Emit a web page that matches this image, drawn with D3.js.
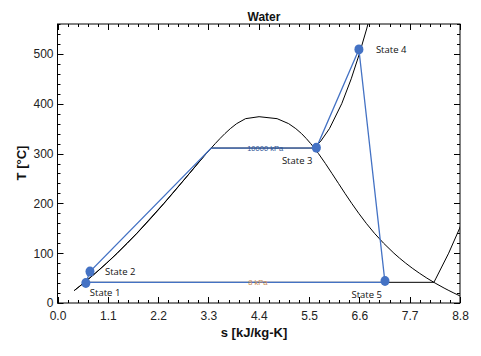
<!DOCTYPE html>
<html>
<head>
<meta charset="utf-8">
<script src="https://cdn.jsdelivr.net/npm/d3@7"></script>
<style>
  body { margin: 0; background: #fff; }
  svg { display: block; }
</style>
</head>
<body>
<svg id="chart" width="481" height="356"></svg>
<script>
// ---------- DATA ----------
const title = "Water";
const xLabel = "s [kJ/kg-K]";
const yLabel = "T [°C]";
const xTicks = [0.0, 1.1, 2.2, 3.3, 4.4, 5.5, 6.6, 7.7, 8.8];
const yTicks = [0, 100, 200, 300, 400, 500];

// saturated liquid line (T, s)
const satLiqT = [25, 30, 40, 50, 60, 70, 80, 90, 100, 120, 140, 160, 180, 200, 220, 240, 260, 280, 300, 310, 320, 330, 340, 350, 360, 370, 373.95];
const satLiqS = [0.3672, 0.4368, 0.5724, 0.7037, 0.8312, 0.9550, 1.0756, 1.1929, 1.3072, 1.5279, 1.7392, 1.9426, 2.1392, 2.3305, 2.5177, 2.7020, 2.8849, 3.0685, 3.2552, 3.3512, 3.4494, 3.5518, 3.6601, 3.7784, 3.9167, 4.1112, 4.4070];
// saturated vapour line (T, s)
const satVapT = [373.95, 370, 360, 350, 340, 330, 320, 310, 300, 280, 260, 240, 220, 200, 180, 160, 140, 120, 100, 90, 80, 70, 60, 50, 40, 30, 25, 20, 15, 10];
const satVapS = [4.4070, 4.8012, 5.0536, 5.2101, 5.3357, 5.4400, 5.5357, 5.6233, 5.7049, 5.8571, 6.0007, 6.1434, 6.2854, 6.4322, 6.5863, 6.7502, 6.9293, 7.1296, 7.3549, 7.4791, 7.6122, 7.7553, 7.9093, 8.0748, 8.2555, 8.4520, 8.5567, 8.6661, 8.7803, 8.8998];

// 10000 kPa isobar (T, s)
const iso10000T = [25, 40, 60, 80, 100, 140, 200, 260, 300, 311.0, 311.0, 325, 350, 400, 450, 500, 550, 600];
const iso10000S = [0.3650, 0.5705, 0.8287, 1.0723, 1.3034, 1.7344, 2.3251, 2.8841, 3.2461, 3.3603, 5.6159, 5.7568, 5.9459, 6.2141, 6.4219, 6.5995, 6.7585, 6.9045];
const iso10000Label = "10000 kPa";

// 8 kPa isobar (T, s)
const iso8T = [41.5, 41.5, 50, 100, 150, 200];
const iso8S = [0.5925, 8.2296, 8.277, 8.552, 8.792, 9.008];
const iso8Label = "8 kPa";

// cycle states
const stateNames = ["State 1", "State 2", "State 3", "State 4", "State 5"];
const stateS = [0.62, 0.71, 5.66, 6.59, 7.16];
const stateT = [40, 63, 311.5, 509, 44];
// cycle path (includes saturated liquid point at 10000 kPa)
const cycleS = [0.62, 0.71, 3.36, 5.66, 6.59, 7.16, 0.62];
const cycleT = [40, 63, 311, 311.5, 509, 41.5, 41.5];

// ---------- CHART ----------
const svg = d3.select("#chart");
const L = 57.5, R = 460, T = 24, B = 303;
const x = d3.scaleLinear().domain([0, 8.8]).range([L, R]);
const y = d3.scaleLinear().domain([0, 560]).range([B, T]);

svg.append("defs").append("clipPath").attr("id", "clip")
  .append("rect").attr("x", L).attr("y", T).attr("width", R - L).attr("height", B - T);

const plot = svg.append("g").attr("clip-path", "url(#clip)");
const line = d3.line().x(d => x(d[0])).y(d => y(d[1]));
const zip = (s, t) => s.map((v, i) => [v, t[i]]);

// dome
plot.append("path").datum(zip(satLiqS, satLiqT)).attr("d", line)
  .attr("fill", "none").attr("stroke", "#000").attr("stroke-width", 1);
plot.append("path").datum(zip(satVapS, satVapT)).attr("d", line)
  .attr("fill", "none").attr("stroke", "#000").attr("stroke-width", 1);
// isobars
plot.append("path").datum(zip(iso10000S, iso10000T)).attr("d", line)
  .attr("fill", "none").attr("stroke", "#000").attr("stroke-width", 1);
plot.append("path").datum(zip(iso8S, iso8T)).attr("d", line)
  .attr("fill", "none").attr("stroke", "#000").attr("stroke-width", 1);

// cycle
plot.append("path").datum(zip(cycleS, cycleT)).attr("d", line)
  .attr("fill", "none").attr("stroke", "#4472C4").attr("stroke-width", 1.3);

// isobar labels
svg.append("text").attr("x", x(4.54)).attr("y", y(311) + 2.5)
  .attr("text-anchor", "middle").attr("font-family", "Liberation Sans, Arial, sans-serif")
  .attr("font-size", 7.5).attr("fill", "#2F5597").text(iso10000Label);
svg.append("text").attr("x", x(4.38)).attr("y", y(41.5) + 2.5)
  .attr("text-anchor", "middle").attr("font-family", "Liberation Sans, Arial, sans-serif")
  .attr("font-size", 7.5).attr("fill", "#C8874A").text(iso8Label);

// markers
svg.selectAll("ellipse.state").data(stateS.map((s, i) => ({s, t: stateT[i], n: stateNames[i]})))
  .enter().append("ellipse").attr("class", "state")
  .attr("cx", d => x(d.s)).attr("cy", d => y(d.t)).attr("rx", 4.5).attr("ry", 5)
  .attr("fill", "#4472C4");

// state labels
const labelOff = [[4, 13, "start"], [15, 3.5, "start"], [-4, 16, "end"], [17, 3.5, "start"], [-3, 17, "end"]];
stateNames.forEach((n, i) => {
  svg.append("text").attr("x", x(stateS[i]) + labelOff[i][0]).attr("y", y(stateT[i]) + labelOff[i][1])
    .attr("text-anchor", labelOff[i][2]).attr("font-family", "Open Sans, sans-serif")
    .attr("font-size", 9.5).attr("fill", "#111").text(n);
});

// frame
svg.append("rect").attr("x", L).attr("y", T).attr("width", R - L).attr("height", B - T)
  .attr("fill", "none").attr("stroke", "#000").attr("stroke-width", 1);

// ticks
const xMinor = d3.range(0, 45).map(i => i * 0.22).filter(v => v <= 8.8001);
const yMinor = d3.range(0, 29).map(i => i * 20).filter(v => v <= 560);
const tk = svg.append("g").attr("stroke", "#000").attr("stroke-width", 1);
xMinor.forEach((v, i) => {
  const len = (i % 5 === 0) ? 6 : 3;
  const px = Math.round(x(v)) + 0.5;
  tk.append("line").attr("x1", px).attr("x2", px).attr("y1", B).attr("y2", B - len);
  tk.append("line").attr("x1", px).attr("x2", px).attr("y1", T).attr("y2", T + len);
});
yMinor.forEach((v, i) => {
  const len = (v % 100 === 0) ? 6 : 3;
  const py = Math.round(y(v)) + 0.5;
  tk.append("line").attr("x1", L).attr("x2", L + len).attr("y1", py).attr("y2", py);
  tk.append("line").attr("x1", R).attr("x2", R - len).attr("y1", py).attr("y2", py);
});

// axes labels via d3 axes (text only)
const xAxis = d3.axisBottom(x).tickValues(xTicks).tickFormat(d3.format(".1f")).tickSize(0).tickPadding(8);
const gx = svg.append("g").attr("transform", `translate(0,${B})`).call(xAxis);
gx.select(".domain").remove();
gx.selectAll("text").attr("font-family", "Liberation Sans, Arial, sans-serif").attr("font-size", 12).attr("fill", "#222");

const yAxis = d3.axisLeft(y).tickValues(yTicks).tickFormat(d3.format("d")).tickSize(0).tickPadding(4);
const gy = svg.append("g").attr("transform", `translate(${L},0)`).call(yAxis);
gy.select(".domain").remove();
gy.selectAll("text").attr("font-family", "Liberation Sans, Arial, sans-serif").attr("font-size", 12).attr("fill", "#222");

// titles
svg.append("text").attr("x", 264).attr("y", 21).attr("text-anchor", "middle")
  .attr("font-family", "Liberation Sans, Arial, sans-serif").attr("font-weight", "bold")
  .attr("font-size", 12).attr("fill", "#111").text(title);
svg.append("text").attr("x", 254).attr("y", 337).attr("text-anchor", "middle")
  .attr("font-family", "Liberation Sans, Arial, sans-serif").attr("font-weight", "bold")
  .attr("font-size", 13).attr("fill", "#111").text(xLabel);
svg.append("text").attr("transform", "translate(26,163) rotate(-90)").attr("text-anchor", "middle")
  .attr("font-family", "Liberation Sans, Arial, sans-serif").attr("font-weight", "bold")
  .attr("font-size", 13).attr("fill", "#111").text(yLabel);
</script>
</body>
</html>
